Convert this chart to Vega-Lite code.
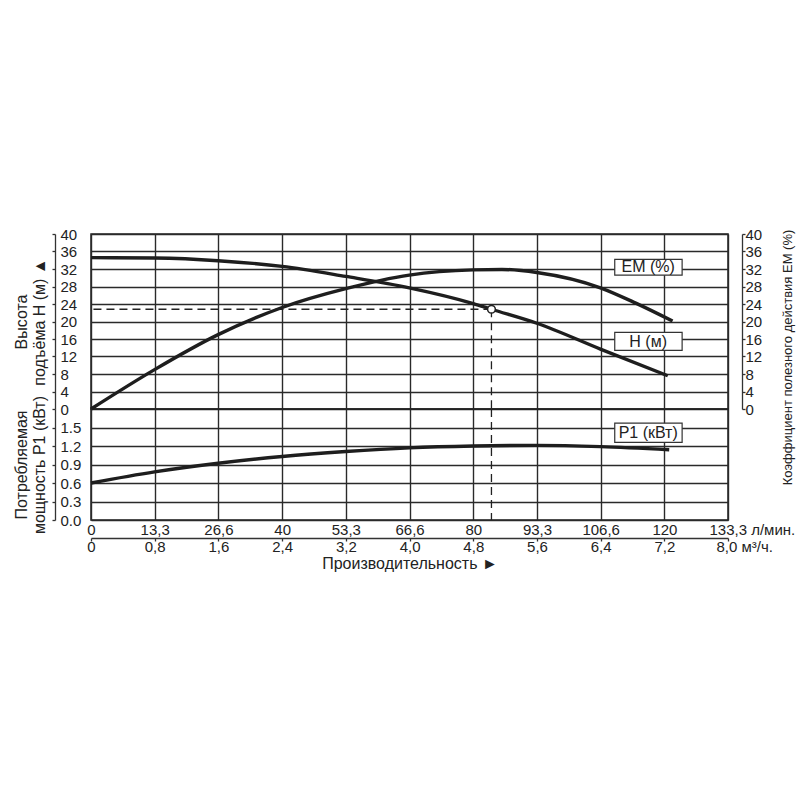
{
  "$schema": "https://vega.github.io/schema/vega-lite/v6.json",
  "description": "Pump performance curves: head H, efficiency EM and power P1 against flow",
  "background": "white",
  "padding": {"left": 12, "top": 226, "right": 5, "bottom": 5},
  "datasets": {
    "head": [
      {"q": 0, "H": 34.6}, {"q": 13.3, "H": 34.5}, {"q": 26.6, "H": 33.9},
      {"q": 40, "H": 32.6}, {"q": 53.3, "H": 30.3}, {"q": 66.6, "H": 27.7},
      {"q": 80, "H": 24.1}, {"q": 83.8, "H": 22.8}, {"q": 93.3, "H": 19.6},
      {"q": 106.6, "H": 13.7}, {"q": 120.7, "H": 7.6}
    ],
    "eff": [
      {"q": 0, "EM": 0}, {"q": 13.3, "EM": 9.0}, {"q": 26.6, "EM": 17.0},
      {"q": 40, "EM": 23.2}, {"q": 53.3, "EM": 27.5}, {"q": 66.6, "EM": 30.6},
      {"q": 80, "EM": 31.8}, {"q": 86, "EM": 31.9}, {"q": 93.3, "EM": 31.2},
      {"q": 106.6, "EM": 27.7}, {"q": 114, "EM": 24.2}, {"q": 121.7, "EM": 20.1}
    ],
    "power": [
      {"q": 0, "P1": 0.6}, {"q": 13.3, "P1": 0.78}, {"q": 26.6, "P1": 0.92},
      {"q": 40, "P1": 1.03}, {"q": 53.3, "P1": 1.11}, {"q": 66.6, "P1": 1.17},
      {"q": 80, "P1": 1.2}, {"q": 93.3, "P1": 1.21}, {"q": 106.6, "P1": 1.19},
      {"q": 121, "P1": 1.14}
    ],
    "duty": [{"q": 83.8, "H": 22.8}],
    "tags": [
      {"label": "ЕМ (%)", "x1": 109.6, "x2": 123.7, "y1": 30.6, "y2": 34.2, "tx": 116.6, "ty": 32.4},
      {"label": "Н (м)", "x1": 109.6, "x2": 123.7, "y1": 13.4, "y2": 17.5, "tx": 116.6, "ty": 15.4}
    ],
    "ptag": [
      {"label": "Р1 (кВт)", "x1": 109.6, "x2": 123.7, "y1": 1.26, "y2": 1.57, "tx": 116.6, "ty": 1.41}
    ]
  },
  "spacing": 0,
  "bounds": "flush",
  "vconcat": [
    {
      "width": 637,
      "height": 175,
      "layer": [
        {
          "layer": [
            {
              "data": {"name": "head"},
              "mark": {"type": "line", "interpolate": "monotone", "color": "#1e1e1e", "strokeWidth": 3.4},
              "encoding": {
                "x": {
                  "field": "q", "type": "quantitative",
                  "scale": {"domain": [0, 133.3], "nice": false, "zero": false},
                  "axis": {
                    "values": [0, 13.33, 26.66, 40, 53.33, 66.66, 80, 93.33, 106.66, 120, 133.3],
                    "tickCount": 30,
                    "grid": true, "labels": false, "ticks": false, "domain": false, "title": null
                  }
                },
                "y": {
                  "field": "H", "type": "quantitative",
                  "scale": {"domain": [0, 40], "nice": false},
                  "axis": {
                    "orient": "left", "offset": 36,
                    "values": [0, 4, 8, 12, 16, 20, 24, 28, 32, 36, 40],
                    "tickCount": 30,
                    "grid": true, "domain": true, "ticks": true, "tickSize": 3,
                    "labelAlign": "left", "labelPadding": -8,
                    "title": ["Высота", "подъёма Н (м) ▲"]
                  }
                }
              }
            },
            {
              "data": {"name": "duty"},
              "mark": {"type": "rule", "strokeDash": [8, 5], "color": "#222", "strokeWidth": 1.3},
              "encoding": {
                "x": {"field": "q", "type": "quantitative"},
                "x2": {"datum": 0},
                "y": {"field": "H", "type": "quantitative"}
              }
            },
            {
              "data": {"name": "duty"},
              "mark": {"type": "rule", "strokeDash": [8, 5], "color": "#222", "strokeWidth": 1.3},
              "encoding": {
                "x": {"field": "q", "type": "quantitative"},
                "y": {"field": "H", "type": "quantitative"},
                "y2": {"datum": 0}
              }
            },
            {
              "data": {"name": "duty"},
              "mark": {"type": "point", "filled": true, "fill": "white", "stroke": "#222", "strokeWidth": 1.5, "size": 60, "opacity": 1},
              "encoding": {
                "x": {"field": "q", "type": "quantitative"},
                "y": {"field": "H", "type": "quantitative"}
              }
            },
            {
              "data": {"name": "tags"},
              "mark": {"type": "rect", "fill": "white", "stroke": "#333", "strokeWidth": 1.2},
              "encoding": {
                "x": {"field": "x1", "type": "quantitative"},
                "x2": {"field": "x2"},
                "y": {"field": "y1", "type": "quantitative"},
                "y2": {"field": "y2"}
              }
            },
            {
              "data": {"name": "tags"},
              "mark": {"type": "text", "fontSize": 16, "color": "#222", "align": "center", "baseline": "middle"},
              "encoding": {
                "x": {"field": "tx", "type": "quantitative"},
                "y": {"field": "ty", "type": "quantitative"},
                "text": {"field": "label"}
              }
            }
          ]
        },
        {
          "data": {"name": "eff"},
          "mark": {"type": "line", "interpolate": "monotone", "color": "#1e1e1e", "strokeWidth": 3.4},
          "encoding": {
            "x": {"field": "q", "type": "quantitative"},
            "y": {
              "field": "EM", "type": "quantitative",
              "scale": {"domain": [0, 40], "nice": false},
              "axis": {
                "orient": "right", "offset": 14,
                "values": [0, 4, 8, 12, 16, 20, 24, 28, 32, 36, 40],
                "tickCount": 30,
                "grid": false, "domain": true, "ticks": true, "tickSize": 3,
                "labelPadding": 0,
                "title": "Коэффициент полезного действия ЕМ (%)",
                "titleFontSize": 13, "titleAngle": 270, "titleBaseline": "top",
                "titleY": 123, "titlePadding": 20
              }
            }
          }
        }
      ],
      "resolve": {"scale": {"y": "independent"}}
    },
    {
      "width": 637,
      "height": 111,
      "layer": [
        {
          "layer": [
            {
              "data": {"name": "power"},
              "mark": {"type": "line", "interpolate": "monotone", "color": "#1e1e1e", "strokeWidth": 3.4},
              "encoding": {
                "x": {
                  "field": "q", "type": "quantitative",
                  "scale": {"domain": [0, 133.3], "nice": false, "zero": false},
                  "axis": {
                    "orient": "bottom",
                    "values": [0, 13.33, 26.66, 40, 53.33, 66.66, 80, 93.33, 106.66, 120, 133.3],
                    "tickCount": 30,
                    "labelExpr": "['0','13,3','26,6','40','53,3','66,6','80','93,3','106,6','120','133,3 л/мин.'][round(datum.value / 13.33)]",
                    "labelAlign": {"condition": {"test": "datum.value > 130", "value": "left"}, "value": "center"},
                    "labelOffset": {"condition": {"test": "datum.value > 130", "value": -19}, "value": 0},
                    "grid": true, "ticks": false, "domain": false, "labelPadding": 2, "title": null
                  }
                },
                "y": {
                  "field": "P1", "type": "quantitative",
                  "scale": {"domain": [0, 1.8], "nice": false},
                  "axis": {
                    "orient": "left", "offset": 36,
                    "values": [0, 0.3, 0.6, 0.9, 1.2, 1.5], "format": ".1f",
                    "tickCount": 30,
                    "grid": true, "domain": true, "ticks": true, "tickSize": 3,
                    "labelAlign": "left", "labelPadding": -8,
                    "title": ["Потребляемая", "мощность Р1 (кВт)"]
                  }
                }
              }
            },
            {
              "data": {"name": "ptag"},
              "mark": {"type": "rect", "fill": "white", "stroke": "#333", "strokeWidth": 1.2},
              "encoding": {
                "x": {"field": "x1", "type": "quantitative"},
                "x2": {"field": "x2"},
                "y": {"field": "y1", "type": "quantitative"},
                "y2": {"field": "y2"}
              }
            },
            {
              "data": {"name": "ptag"},
              "mark": {"type": "text", "fontSize": 16, "color": "#222", "align": "center", "baseline": "middle"},
              "encoding": {
                "x": {"field": "tx", "type": "quantitative"},
                "y": {"field": "ty", "type": "quantitative"},
                "text": {"field": "label"}
              }
            }
          ]
        },
        {
          "data": {"name": "duty"},
          "mark": {"type": "rule", "strokeDash": [8, 5], "color": "#222", "strokeWidth": 1.3},
          "encoding": {
            "x": {
              "field": "q", "type": "quantitative",
              "scale": {"domain": [0, 133.3], "nice": false, "zero": false},
              "axis": {
                "orient": "bottom", "offset": 18,
                "values": [0, 13.33, 26.66, 40, 53.33, 66.66, 80, 93.33, 106.66, 120, 133.3],
                "tickCount": 30,
                "labelExpr": "['0','0,8','1,6','2,4','3,2','4,0','4,8','5,6','6,4','7,2','8,0 м³/ч.'][round(datum.value / 13.33)]",
                "labelAlign": {"condition": {"test": "datum.value > 130", "value": "left"}, "value": "center"},
                "labelOffset": {"condition": {"test": "datum.value > 130", "value": -12}, "value": 0},
                "grid": false, "ticks": true, "tickSize": 3, "domain": true, "labelPadding": -2,
                "title": "Производительность ►", "titlePadding": 1
              }
            }
          }
        }
      ],
      "resolve": {"scale": {"x": "independent"}, "axis": {"x": "independent"}}
    }
  ],
  "config": {
    "font": "Liberation Sans",
    "view": {"stroke": "#222", "strokeWidth": 1.5},
    "axis": {
      "labelFont": "Liberation Sans", "labelFontSize": 15, "labelColor": "#222",
      "labelFlush": false, "labelOverlap": false,
      "titleFont": "Liberation Sans", "titleFontSize": 16, "titleFontWeight": "normal", "titleColor": "#222",
      "gridColor": "#2a2a2a", "gridWidth": 1.4, "gridOpacity": 1,
      "domainColor": "#333", "domainWidth": 1.3, "tickColor": "#333", "tickWidth": 1.3
    }
  }
}
